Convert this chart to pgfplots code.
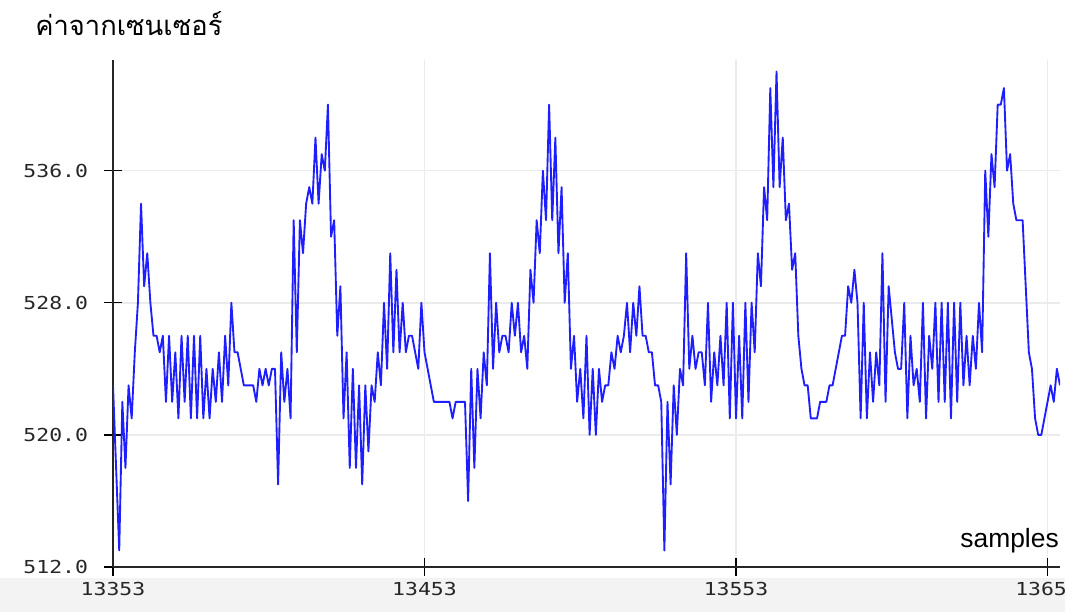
\documentclass[border=0pt]{standalone}
\usepackage{pgfplots}
\pgfplotsset{compat=1.18}
\usepackage{fontspec}
\setmainfont{Liberation Sans}
\newfontfamily\thaifont[Script=Thai]{Loma}
\newfontfamily\tickfont{DejaVu Sans Mono}
\definecolor{sigblue}{RGB}{30,30,255}
\definecolor{gridgray}{RGB}{235,235,235}
\definecolor{bandgray}{RGB}{243,243,243}
\begin{document}
\begin{tikzpicture}
% 1 px = 0.75pt; axis box lower-left at (0,0) = pixel (113,567)
\path[use as bounding box] (-84.75pt,-33.75pt) rectangle (714pt,425.25pt);
\fill[bandgray] (-84.75pt,-33.75pt) rectangle (714pt,-8.25pt);
\node[anchor=base west,inner sep=0pt] at (-58.5pt,398.25pt) {\thaifont\fontsize{20.5}{24}\selectfont ค่าจากเซนเซอร์};
\begin{axis}[
  at={(0pt,0pt)}, anchor=south west,
  scale only axis, width=710.25pt, height=380.25pt,
  xmin=13353, xmax=13657, ymin=512, ymax=542.7,
  scaled x ticks=false, scaled y ticks=false,
  axis lines*=left,
  axis line style={black!85, line width=1.6pt},
  tick align=center,
  major tick length=13pt,
  tick style={black, line width=1pt},
  grid=major,
  grid style={gridgray, line width=1.2pt},
  xtick={13353,13453,13553,13653},
  xticklabels={13353,13453,13553,13653},
  ytick={512,520,528,536},
  yticklabels={512.0,520.0,528.0,536.0},
  ticklabel style={font=\tickfont\fontsize{13.4}{15}\selectfont, xscale=1.2, text=black!85},
  yticklabel style={anchor=east, inner sep=0pt, xshift=-10pt},
  xticklabel style={anchor=north, inner sep=0pt, yshift=-5pt},
  clip=true,
]
\addplot[sigblue, line width=1.4pt, line join=round, mark=none] coordinates {
(13353,523)(13354,518)(13355,513)(13356,522)(13357,518)(13358,523)(13359,521)(13360,525)(13361,528)(13362,534)
(13363,529)(13364,531)(13365,528)(13366,526)(13367,526)(13368,525)(13369,526)(13370,522)(13371,526)(13372,522)
(13373,525)(13374,521)(13375,526)(13376,522)(13377,526)(13378,521)(13379,526)(13380,521)(13381,526)(13382,521)
(13383,524)(13384,521)(13385,524)(13386,522)(13387,525)(13388,522)(13389,526)(13390,523)(13391,528)(13392,525)
(13393,525)(13394,524)(13395,523)(13396,523)(13397,523)(13398,523)(13399,522)(13400,524)(13401,523)(13402,524)
(13403,523)(13404,524)(13405,524)(13406,517)(13407,525)(13408,522)(13409,524)(13410,521)(13411,533)(13412,525)
(13413,533)(13414,531)(13415,534)(13416,535)(13417,534)(13418,538)(13419,534)(13420,537)(13421,536)(13422,540)
(13423,532)(13424,533)(13425,526)(13426,529)(13427,521)(13428,525)(13429,518)(13430,524)(13431,518)(13432,523)
(13433,517)(13434,523)(13435,519)(13436,523)(13437,522)(13438,525)(13439,523)(13440,528)(13441,524)(13442,531)
(13443,525)(13444,530)(13445,525)(13446,528)(13447,525)(13448,526)(13449,526)(13450,525)(13451,524)(13452,528)
(13453,525)(13454,524)(13455,523)(13456,522)(13457,522)(13458,522)(13459,522)(13460,522)(13461,522)(13462,521)
(13463,522)(13464,522)(13465,522)(13466,522)(13467,516)(13468,524)(13469,518)(13470,524)(13471,521)(13472,525)
(13473,523)(13474,531)(13475,524)(13476,528)(13477,525)(13478,526)(13479,526)(13480,525)(13481,528)(13482,526)
(13483,528)(13484,525)(13485,526)(13486,524)(13487,530)(13488,528)(13489,533)(13490,531)(13491,536)(13492,533)
(13493,540)(13494,533)(13495,538)(13496,531)(13497,535)(13498,528)(13499,531)(13500,524)(13501,526)(13502,522)
(13503,524)(13504,521)(13505,526)(13506,520)(13507,524)(13508,520)(13509,524)(13510,522)(13511,523)(13512,523)
(13513,525)(13514,524)(13515,526)(13516,525)(13517,526)(13518,528)(13519,525)(13520,528)(13521,526)(13522,529)
(13523,526)(13524,526)(13525,525)(13526,525)(13527,523)(13528,523)(13529,522)(13530,513)(13531,522)(13532,517)
(13533,523)(13534,520)(13535,524)(13536,523)(13537,531)(13538,524)(13539,526)(13540,524)(13541,525)(13542,525)
(13543,523)(13544,528)(13545,522)(13546,525)(13547,523)(13548,526)(13549,523)(13550,528)(13551,521)(13552,528)
(13553,521)(13554,526)(13555,521)(13556,528)(13557,522)(13558,528)(13559,525)(13560,531)(13561,529)(13562,535)
(13563,533)(13564,541)(13565,535)(13566,542)(13567,535)(13568,538)(13569,533)(13570,534)(13571,530)(13572,531)
(13573,526)(13574,524)(13575,523)(13576,523)(13577,521)(13578,521)(13579,521)(13580,522)(13581,522)(13582,522)
(13583,523)(13584,523)(13585,524)(13586,525)(13587,526)(13588,526)(13589,529)(13590,528)(13591,530)(13592,528)
(13593,521)(13594,528)(13595,521)(13596,525)(13597,522)(13598,525)(13599,523)(13600,531)(13601,522)(13602,529)
(13603,527)(13604,525)(13605,524)(13606,524)(13607,528)(13608,521)(13609,526)(13610,523)(13611,524)(13612,522)
(13613,528)(13614,521)(13615,526)(13616,524)(13617,528)(13618,522)(13619,528)(13620,522)(13621,528)(13622,521)
(13623,528)(13624,522)(13625,528)(13626,523)(13627,526)(13628,523)(13629,526)(13630,524)(13631,528)(13632,525)
(13633,536)(13634,532)(13635,537)(13636,535)(13637,540)(13638,540)(13639,541)(13640,536)(13641,537)(13642,534)
(13643,533)(13644,533)(13645,533)(13646,529)(13647,525)(13648,524)(13649,521)(13650,520)(13651,520)(13652,521)
(13653,522)(13654,523)(13655,522)(13656,524)(13657,523)
};
\end{axis}
\node[anchor=base east,inner sep=0pt] at (709.5pt,15pt) {\fontsize{19.8}{22}\selectfont samples};
\end{tikzpicture}
\end{document}
